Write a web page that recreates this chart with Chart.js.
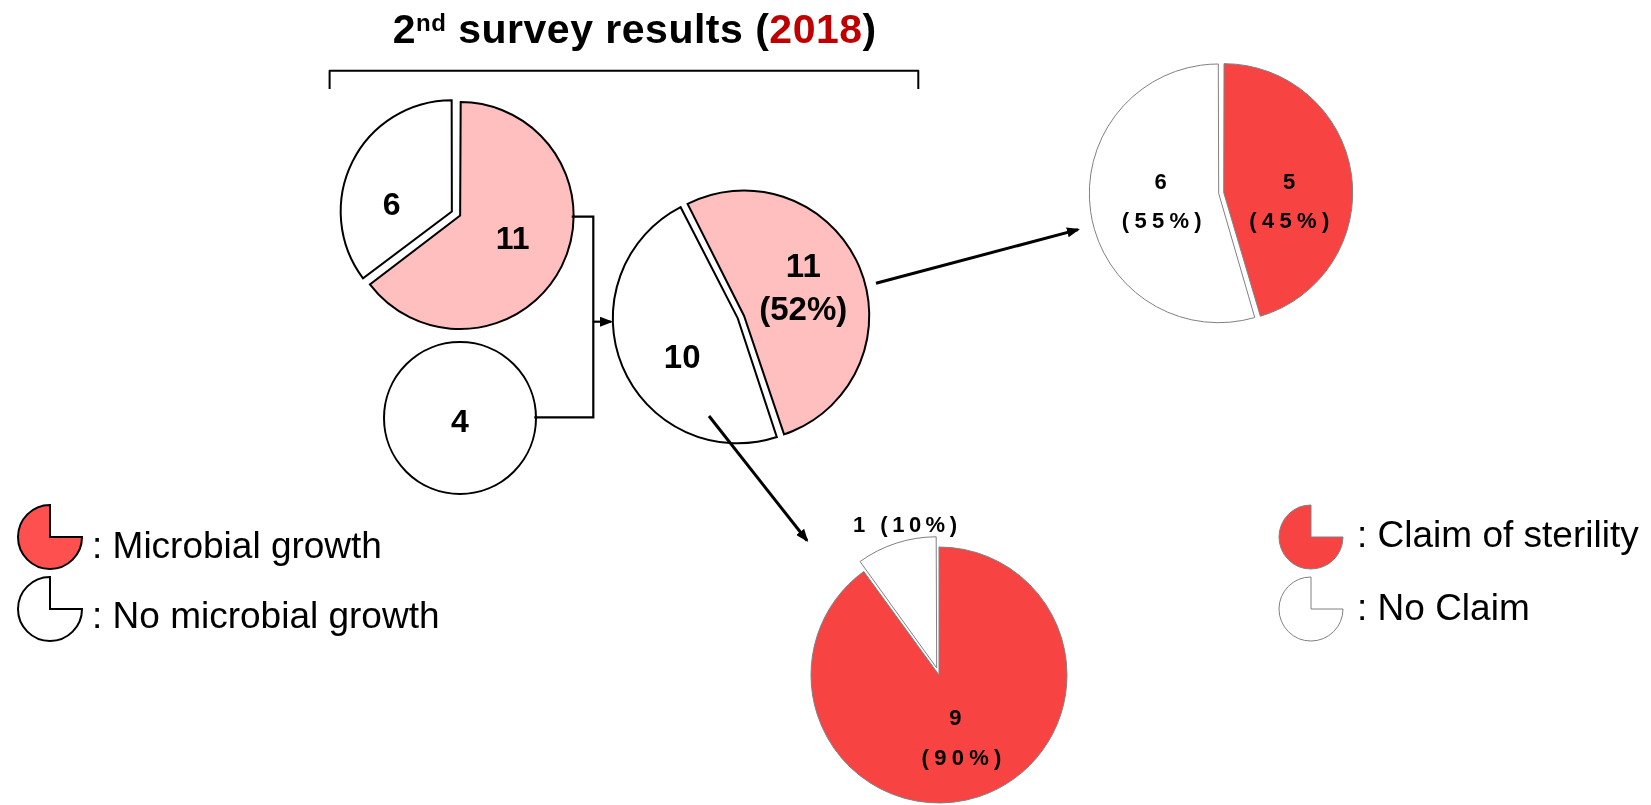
<!DOCTYPE html>
<html>
<head>
<meta charset="utf-8">
<title>2nd survey results (2018)</title>
<script src="https://cdn.jsdelivr.net/npm/chart.js@4.4.1/dist/chart.umd.min.js"></script>
<style>
  html, body { margin: 0; padding: 0; background: #fff; }
  #stage { position: relative; width: 1651px; height: 805px; overflow: hidden; }
  .pie { position: absolute; }
  #overlay { position: absolute; left: 0; top: 0; pointer-events: none; font-family: 'Liberation Sans', Arial, sans-serif; }
  #overlay text { white-space: pre; }
</style>
</head>
<body>
<div id="stage">
  <svg id="overlay" width="1651" height="805" xmlns="http://www.w3.org/2000/svg">
    <defs>
      <marker id="head" markerUnits="userSpaceOnUse" markerWidth="14" markerHeight="10" refX="11" refY="5" orient="auto">
        <path d="M0,0 L13,5 L0,10 z" fill="#000"/>
      </marker>
    </defs>
    <text x="392.7" y="42.7" font-size="41" font-weight="bold" letter-spacing="0.5" fill="#000">2<tspan font-size="24" dy="-12">nd</tspan><tspan dy="12"> survey results (</tspan><tspan fill="#C00000">2018</tspan>)</text>
    <path d="M329.6,89 L329.6,70.7 L918.3,70.7 L918.3,89" fill="none" stroke="#000" stroke-width="2" stroke-linejoin="round"/>
    <path d="M571.7,216.7 H593.3 V417.3 H534.3" fill="none" stroke="#000" stroke-width="2.2"/>
    <line x1="593.3" y1="321.7" x2="611" y2="321.7" stroke="#000" stroke-width="2.2" marker-end="url(#head)"/>
    <line x1="876" y1="283.3" x2="1078" y2="229.6" stroke="#000" stroke-width="3" marker-end="url(#head)"/>
    <line x1="709" y1="416" x2="807" y2="540.5" stroke="#000" stroke-width="3" marker-end="url(#head)"/>
    <g id="labels"></g>
  </svg>
</div>
<script>
// survey counts
const growthLabels = ['Microbial growth', 'No microbial growth'];
const claimLabels = ['Claim of sterility', 'No Claim'];
const groupAValues = [11, 6];        // growth, no growth
const groupBValues = [4];            // no growth only
const totalValues = [11, 10];        // growth, no growth
const growthClaimValues = [5, 6];    // claim, no claim (growth)
const noGrowthClaimValues = [9, 1];  // claim, no claim (no growth)

const PINK = '#FFBFBF';
const RED = '#F84343';
const LEGEND_RED = '#FF5050';

const stage = document.getElementById('stage');
const overlay = document.getElementById('overlay');
const labelLayer = document.getElementById('labels');

// a one-slice pie gets a radius line from Chart.js, so outline it as a plain circle instead
const circleOutline = {
    id: 'circleOutline',
    afterDatasetsDraw(chart, args, opts) {
        if (!opts.color) return;
        const arc = chart.getDatasetMeta(0).data[0];
        const ctx = chart.ctx;
        ctx.save();
        ctx.beginPath();
        ctx.arc(arc.x, arc.y, arc.outerRadius, 0, Math.PI * 2);
        ctx.lineWidth = opts.width;
        ctx.strokeStyle = opts.color;
        ctx.stroke();
        ctx.restore();
    }
};

function pct(values, i) {
    const total = values.reduce((a, b) => a + b, 0);
    return Math.round(values[i] / total * 100) + '%';
}

function makePie(cx, cy, radius, labels, values, style) {
    const size = Math.ceil(2 * (radius + 26));
    const box = document.createElement('div');
    box.className = 'pie';
    box.style.left = (cx - size / 2) + 'px';
    box.style.top = (cy - size / 2) + 'px';
    box.style.width = size + 'px';
    box.style.height = size + 'px';
    const canvas = document.createElement('canvas');
    canvas.width = size;
    canvas.height = size;
    box.appendChild(canvas);
    stage.insertBefore(box, overlay);

    new Chart(canvas, {
        type: 'pie',
        data: {
            labels: labels,
            datasets: [{
                data: values,
                backgroundColor: style.colors,
                borderColor: style.borderColor,
                borderWidth: style.outline ? 0 : style.borderWidth,
                offset: style.offset || 0,
                borderJoinStyle: 'miter'
            }]
        },
        options: {
            responsive: false,
            animation: false,
            radius: radius,
            rotation: style.rotation || 0,
            layout: { padding: 0 },
            events: [],
            plugins: {
                legend: { display: false },
                tooltip: { enabled: false },
                circleOutline: style.outline ? { color: style.borderColor, width: style.borderWidth } : {}
            }
        },
        plugins: [circleOutline]
    });
}

function addText(x, y, str, size, opts) {
    opts = opts || {};
    const t = document.createElementNS('http://www.w3.org/2000/svg', 'text');
    const ls = opts.spacing || 0;
    t.setAttribute('x', x + (opts.anchor === 'start' ? 0 : ls / 2));
    t.setAttribute('y', y);
    t.setAttribute('font-size', size);
    t.setAttribute('font-weight', opts.bold === false ? 'normal' : 'bold');
    t.setAttribute('text-anchor', opts.anchor || 'middle');
    t.setAttribute('fill', '#000');
    if (ls) t.setAttribute('letter-spacing', ls);
    t.textContent = str;
    labelLayer.appendChild(t);
}

// left group: 6 / 11
makePie(456.6, 213.7, 110, growthLabels, groupAValues, {
    colors: [PINK, '#FFFFFF'], borderColor: '#000', borderWidth: 2, offset: [14, 23]
});
addText(512.7, 248.5, String(groupAValues[0]), 32);
addText(391.7, 214.8, String(groupAValues[1]), 32);

// left group: 4
makePie(460, 417.5, 76, [growthLabels[1]], groupBValues, {
    colors: ['#FFFFFF'], borderColor: '#000', borderWidth: 2, outline: true
});
addText(460, 431.7, String(groupBValues[0]), 32);

// combined: 11 / 10
makePie(740.5, 316.7, 122, growthLabels, totalValues, {
    colors: [PINK, '#FFFFFF'], borderColor: '#000', borderWidth: 2, offset: [13, 14], rotation: -27
});
addText(803.3, 276.7, String(totalValues[0]), 33);
addText(803.3, 320, '(' + pct(totalValues, 0) + ')', 33);
addText(682.2, 368.3, String(totalValues[1]), 33);

// growth -> claim of sterility
const small = { spacing: 5.3 };
makePie(1221.4, 193.3, 127, claimLabels, growthClaimValues, {
    colors: [RED, '#FFFFFF'], borderColor: '#808080', borderWidth: 1, offset: [11, 9.4]
});
addText(1289, 189.3, String(growthClaimValues[0]), 22, small);
addText(1289.3, 228.3, '(' + pct(growthClaimValues, 0) + ')', 22, small);
addText(1160.7, 189.3, String(growthClaimValues[1]), 22, small);
addText(1161.7, 228.3, '(' + pct(growthClaimValues, 1) + ')', 22, small);

// no growth -> claim of sterility
makePie(939.3, 675, 128, claimLabels, noGrowthClaimValues, {
    colors: [RED, '#FFFFFF'], borderColor: '#808080', borderWidth: 1, offset: [0, 30]
});
addText(955.3, 725, String(noGrowthClaimValues[0]), 22, small);
addText(961.5, 765, '(' + pct(noGrowthClaimValues, 0) + ')', 22, small);
addText(905, 531.7, noGrowthClaimValues[1] + ' (' + pct(noGrowthClaimValues, 1) + ')', 22, { spacing: 4.5 });

// legend icons: three-quarter pies with the top-right quarter cut away
function legendIcon(cx, cy, fill, border, width) {
    makePie(cx, cy, 32, ['', ''], [1, 3], {
        colors: ['rgba(0,0,0,0)', fill],
        borderColor: ['rgba(0,0,0,0)', border],
        borderWidth: [0, width]
    });
}

legendIcon(50.3, 537, LEGEND_RED, '#000', 2);
legendIcon(50.3, 608.5, '#FFFFFF', '#000', 2);
addText(92, 558.3, ': ' + growthLabels[0], 37, { anchor: 'start', bold: false });
addText(92, 628.3, ': ' + growthLabels[1], 37, { anchor: 'start', bold: false });

legendIcon(1310.5, 536.5, RED, '#808080', 1);
legendIcon(1311, 608.5, '#FFFFFF', '#808080', 1);
addText(1357, 547, ': ' + claimLabels[0], 37, { anchor: 'start', bold: false });
addText(1357, 620, ': ' + claimLabels[1], 37, { anchor: 'start', bold: false });
</script>
</body>
</html>
